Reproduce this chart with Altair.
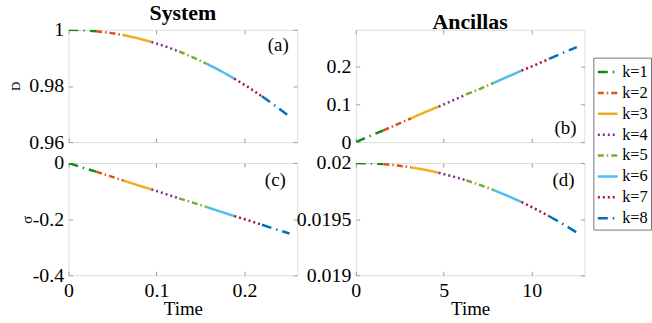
import altair as alt
import pandas as pd

# ---------------- data ----------------
seg_labels = ["k=1", "k=2", "k=3", "k=4", "k=5", "k=6", "k=7", "k=8"]
seg_colors = ["#138a13", "#d95319", "#edb120", "#7e2f8e",
              "#77ac30", "#4dbeee", "#a2142f", "#0072bd"]
seg_dashes = [[10, 5, 1.5, 5], [6, 3, 1.5, 3], [1, 0], [2, 3],
              [6, 3, 1.5, 3], [1, 0], [2, 3], [10, 5, 1.5, 5]]

# System (time in units of the left panels)
t_sys = [0.0, 0.0157, 0.0314, 0.0471, 0.0628, 0.0785, 0.0942, 0.1100, 0.1257,
         0.1414, 0.1571, 0.1728, 0.1885, 0.2042, 0.2199, 0.2356, 0.2513]
D_sys = [1.0000, 0.9999, 0.9995, 0.9989, 0.9981, 0.9970, 0.9957, 0.9941, 0.9923,
         0.9902, 0.9879, 0.9854, 0.9826, 0.9796, 0.9763, 0.9728, 0.9691]
sigma_sys = [0.0, -0.016, -0.031, -0.047, -0.063, -0.079, -0.094, -0.110, -0.126,
             -0.141, -0.157, -0.173, -0.189, -0.204, -0.220, -0.236, -0.251]

# Ancillas
t_anc = [0.0, 0.785, 1.571, 2.356, 3.142, 3.927, 4.712, 5.498, 6.283,
         7.069, 7.854, 8.639, 9.425, 10.210, 10.996, 11.781, 12.566]
D_anc = [0.0, 0.016, 0.031, 0.047, 0.063, 0.079, 0.094, 0.110, 0.126,
         0.141, 0.157, 0.173, 0.189, 0.204, 0.220, 0.236, 0.251]
sigma_anc = [0.020000, 0.019998, 0.019990, 0.019978, 0.019961, 0.019940, 0.019913,
             0.019881, 0.019845, 0.019804, 0.019758, 0.019707, 0.019652, 0.019591,
             0.019526, 0.019456, 0.019381]

# axis ticks
x_ticks_sys = [0, 0.1, 0.2]
x_ticks_anc = [0, 5, 10]
y_ticks_a = [0.96, 0.98, 1]
y_ticks_b = [0, 0.1, 0.2]
y_ticks_c = [-0.4, -0.2, 0]
y_ticks_d = [0.019, 0.0195, 0.02]

panel_tags = ["(a)", "(b)", "(c)", "(d)"]
col_titles = ["System", "Ancillas"]

# ---------------- style ----------------
FONT = "'Liberation Serif', 'Times New Roman', Times, serif"
FRAME = "#9c9c9c"
W, H = 230, 113
NEG_TICK = alt.ExprRef(expr="-4")
FMT = ".4~f"
LABEL_SIZE = 20


def seg_frame(t, v):
    rows = []
    for i, lab in enumerate(seg_labels):
        for j in range(2 * i, 2 * i + 3):
            rows.append({"t": t[j], "v": v[j], "k": lab})
    return pd.DataFrame(rows)


legend = alt.Legend(
    title=None, orient="none", legendX=528, legendY=28,
    symbolType="stroke", symbolSize=400, symbolStrokeWidth=2.5,
    labelFont=FONT, labelFontSize=16.5, labelColor="black", labelOffset=3,
    padding=3, rowPadding=1, strokeColor="#777777", fillColor="white",
)

color_enc = alt.Color("k:N", scale=alt.Scale(domain=seg_labels, range=seg_colors), legend=legend)
dash_enc = alt.StrokeDash("k:N", scale=alt.Scale(domain=seg_labels, range=seg_dashes), legend=legend)


def axis_kw(**kw):
    base = dict(grid=False, domain=False, tickColor=FRAME, tickWidth=1, tickSize=NEG_TICK,
                labelFont=FONT, labelFontSize=LABEL_SIZE, labelColor="black", labelFlush=False,
                labelOverlap=False, titleFont=FONT, titleFontWeight="normal",
                titleColor="black")
    base.update(kw)
    return alt.Axis(**base)


def panel(df, xdom, ydom, xticks, yticks, tag, tag_x, tag_y, show_x, ytitle=None,
          ytitle_size=19, ytitle_pad=4, title=None, ylabel_expr=None):
    xscale = alt.Scale(domain=xdom, nice=False, zero=False)
    yscale = alt.Scale(domain=ydom, nice=False, zero=False)
    xkw = dict(orient="bottom", values=xticks, format=FMT, labels=show_x, labelPadding=9,
               title="Time" if show_x else None, titleFontSize=19, titlePadding=-1)
    ykw = dict(orient="left", values=yticks, format=FMT, labelPadding=9,
               title=ytitle, titleFontSize=ytitle_size, titlePadding=ytitle_pad)
    if ylabel_expr:
        ykw["labelExpr"] = ylabel_expr
    lines = alt.Chart(df).mark_line(strokeWidth=2.5, clip=True).encode(
        x=alt.X("t:Q", scale=xscale, axis=axis_kw(**xkw)),
        y=alt.Y("v:Q", scale=yscale, axis=axis_kw(**ykw)),
        color=color_enc,
        strokeDash=dash_enc,
    )
    mirror = alt.Chart(df).mark_line(opacity=0).encode(
        x=alt.X("t:Q", scale=xscale,
                axis=axis_kw(orient="top", values=xticks, labels=False, title=None)),
        y=alt.Y("v:Q", scale=yscale,
                axis=axis_kw(orient="right", values=yticks, labels=False, title=None)),
    )
    label = alt.Chart(pd.DataFrame({"tag": [tag]})).mark_text(
        font=FONT, fontSize=19, color="black", align="center", baseline="middle"
    ).encode(x=alt.value(tag_x), y=alt.value(tag_y), text="tag:N")
    ch = alt.layer(lines, mirror, label).resolve_axis(x="independent", y="independent")
    props = dict(width=W, height=H)
    if title:
        props["title"] = alt.TitleParams(title, font=FONT, fontSize=22, fontWeight="bold",
                                         color="black", offset=-5)
    return ch.properties(**props)


minus_expr = "(datum.value < 0 ? '-' : '') + format(abs(datum.value), '.4~f')"

pa = panel(seg_frame(t_sys, D_sys), [0, 0.26], [0.96, 1.0], x_ticks_sys, y_ticks_a,
           panel_tags[0], 211, 15, False, ytitle="D", ytitle_size=13, ytitle_pad=6,
           title=col_titles[0])
pc = panel(seg_frame(t_sys, sigma_sys), [0, 0.26], [-0.4, 0.0], x_ticks_sys, y_ticks_c,
           panel_tags[2], 208, 17, True, ytitle="σ", ytitle_size=15, ytitle_pad=-2,
           ylabel_expr=minus_expr)
pb = panel(seg_frame(t_anc, D_anc), [0, 13], [0, 0.297], x_ticks_anc, y_ticks_b,
           panel_tags[1], 211, 99, False, title=col_titles[1])
pd_ = panel(seg_frame(t_anc, sigma_anc), [0, 13], [0.019, 0.02], x_ticks_anc, y_ticks_d,
            panel_tags[3], 209, 17, True)

left = alt.vconcat(pa, pc, spacing=-1)
right = alt.vconcat(pb, pd_, spacing=-1)

chart = alt.hconcat(left, right, spacing=-3).properties(
    padding={"left": 9, "top": 0, "right": 0, "bottom": 0}
).configure_view(
    stroke=FRAME, strokeWidth=1
).configure_axis(
    labelFont=FONT, labelFontSize=LABEL_SIZE
).configure_legend(
    labelFont=FONT
).configure(
    font=FONT
)

chart.save("out.html", embed_options={"renderer": "svg", "actions": False})
